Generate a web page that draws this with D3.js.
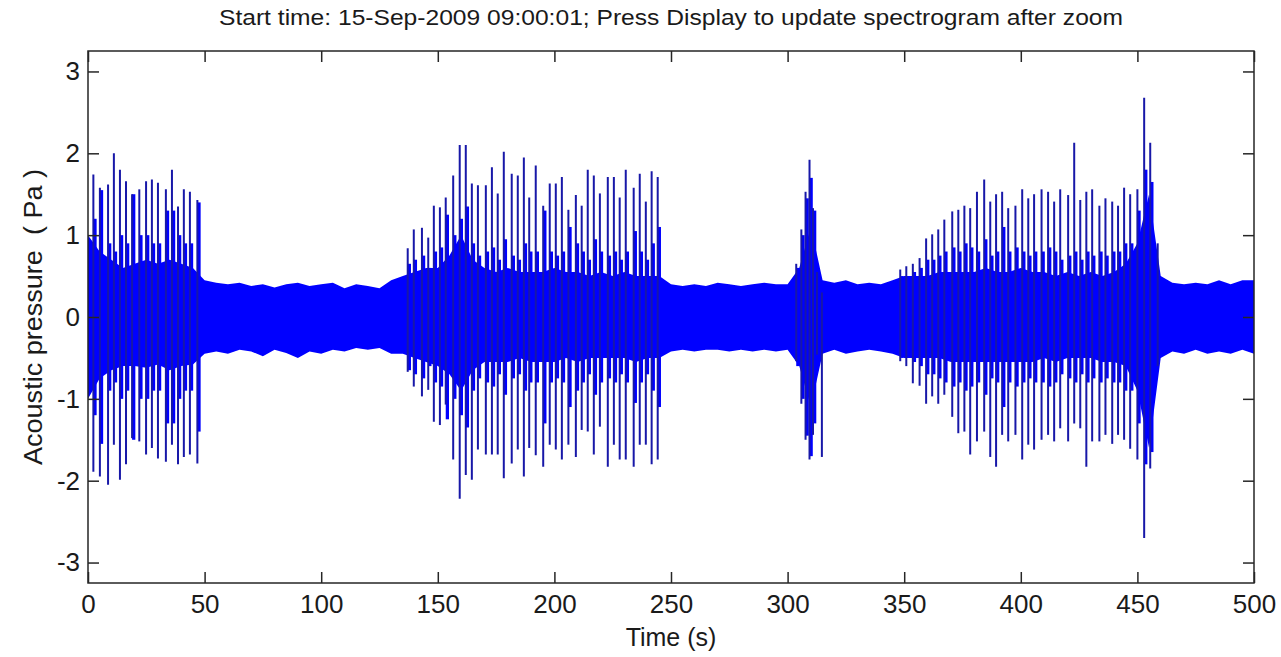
<!DOCTYPE html>
<html>
<head>
<meta charset="utf-8">
<script src="https://cdn.jsdelivr.net/npm/d3@7"></script>
<style>
  body { margin: 0; background: #ffffff; }
  svg text { font-family: "Liberation Sans", Arial, sans-serif; fill: #1a1a1a; }
</style>
</head>
<body>
<div id="vis"></div>
<script>
// Noise band envelope (Pa), read every 5 s from 0 to 500 s
const envTimes = d3.range(0, 501, 5);
const envUpper = [
  1.0, 0.8, 0.7, 0.6, 0.65, 0.7, 0.65, 0.7, 0.65, 0.6,
  0.45, 0.42, 0.4, 0.42, 0.38, 0.4, 0.36, 0.4, 0.42, 0.38,
  0.4, 0.42, 0.35, 0.4, 0.38, 0.35, 0.45, 0.5, 0.55, 0.6,
  0.6, 0.75, 1.0, 0.7, 0.6, 0.55, 0.6, 0.55, 0.55, 0.55,
  0.6, 0.55, 0.55, 0.5, 0.55, 0.5, 0.55, 0.5, 0.5, 0.5,
  0.4, 0.38, 0.4, 0.38, 0.42, 0.4, 0.38, 0.4, 0.42, 0.4,
  0.4, 0.6, 1.1, 0.45, 0.42, 0.45, 0.4, 0.42, 0.4, 0.45,
  0.5, 0.5, 0.5, 0.55, 0.55, 0.55, 0.55, 0.6, 0.55, 0.55,
  0.6, 0.55, 0.55, 0.5, 0.55, 0.5, 0.55, 0.5, 0.55, 0.65,
  0.9, 1.5, 0.5, 0.42, 0.4, 0.42, 0.4, 0.45, 0.4, 0.45,
  0.45
];
const envLower = [
  -1.0, -0.75, -0.65, -0.6, -0.6, -0.62, -0.58, -0.65, -0.6, -0.58,
  -0.45, -0.42, -0.45, -0.4, -0.42, -0.48, -0.4, -0.44, -0.5, -0.42,
  -0.45, -0.4, -0.42, -0.38, -0.4, -0.38, -0.45, -0.45, -0.5, -0.55,
  -0.6, -0.7, -0.9, -0.65, -0.55, -0.55, -0.55, -0.5, -0.55, -0.55,
  -0.55, -0.5, -0.55, -0.5, -0.5, -0.5, -0.5, -0.55, -0.5, -0.5,
  -0.42, -0.4, -0.42, -0.4, -0.4, -0.42, -0.4, -0.42, -0.4, -0.42,
  -0.4, -0.6, -1.1, -0.45, -0.4, -0.45, -0.42, -0.4, -0.42, -0.45,
  -0.5, -0.5, -0.5, -0.5, -0.55, -0.55, -0.55, -0.55, -0.55, -0.55,
  -0.55, -0.55, -0.5, -0.55, -0.5, -0.5, -0.5, -0.55, -0.55, -0.6,
  -0.9, -1.6, -0.5, -0.42, -0.45, -0.4, -0.45, -0.42, -0.45, -0.4,
  -0.45
];

// Click pulses: time (s), positive peak, negative peak, height of the dense part
const pulseTimes = [
  2.3, 5.1, 8.6, 11.1, 13.7, 16.3, 18.9, 22.0, 24.9, 27.4, 30.0, 33.4, 36.0, 38.6, 41.1, 43.7, 46.9,
  137.1, 139.7, 143.2, 145.9, 148.3, 150.9, 153.4, 156.6, 159.4, 162.0, 164.6, 167.2, 170.6, 173.2,
  175.7, 178.3, 181.7, 184.3, 186.9, 189.2, 192.0, 195.2, 198.0, 200.6, 203.2, 206.0, 209.2, 211.7,
  214.3, 216.9, 219.5, 222.9, 225.5, 228.0, 230.6, 234.0, 236.6, 239.2, 241.7, 244.3,
  303.7, 305.9, 307.7, 309.4, 310.9, 312.6, 314.7,
  348.3, 350.9, 353.7, 356.6, 359.4, 362.0, 364.6, 367.2, 370.6, 373.2, 375.8, 378.3, 381.2, 384.3,
  386.9, 389.4, 392.0, 394.6, 397.7, 400.6, 403.2, 405.7, 408.9, 411.7, 414.3, 416.9, 420.3, 422.9,
  425.5, 428.1, 430.6, 433.7, 436.3, 439.2, 441.7, 444.3, 446.9, 450.0, 452.9, 455.5, 458.7
];
const pulseTops = [
  1.74, 1.58, 1.62, 2.0, 1.80, 1.66, 1.50, 1.56, 1.66, 1.68, 1.64, 1.56, 1.80, 1.35, 1.56, 1.53, 1.43,
  0.84, 1.07, 1.09, 0.97, 1.36, 1.34, 1.46, 1.73, 2.10, 2.10, 1.63, 1.61, 1.61, 1.83,
  1.51, 2.02, 1.75, 1.73, 1.95, 1.46, 1.85, 1.36, 1.63, 1.63, 1.71, 1.31, 1.49, 1.36,
  1.80, 1.73, 1.51, 1.71, 1.71, 1.46, 1.80, 1.58, 1.75, 1.41, 1.78, 1.71,
  0.65, 1.07, 1.53, 1.92, 1.33, 0.55, 0.3,
  0.58, 0.62, 0.65, 0.72, 0.96, 1.01, 1.07, 1.19, 1.29, 1.31, 1.36, 1.33, 1.53, 1.68,
  1.41, 1.50, 1.53, 1.33, 1.36, 1.56, 1.45, 1.50, 1.56, 1.53, 1.41, 1.56, 1.49, 2.13,
  1.43, 1.53, 1.56, 1.36, 1.45, 1.41, 1.36, 1.58, 1.50, 1.56, 2.68, 2.13, 0.9
];
const pulseBottoms = [
  -1.89, -1.95, -2.05, -1.56, -1.99, -1.80, -1.48, -1.52, -1.68, -1.60, -1.73, -1.77, -1.56, -1.80, -1.71, -1.68, -1.79,
  -0.67, -0.85, -0.97, -0.89, -1.28, -1.32, -1.07, -1.74, -2.22, -1.93, -1.99, -1.62, -1.68, -1.68,
  -1.68, -1.97, -1.79, -1.62, -1.95, -1.60, -1.69, -1.83, -1.56, -1.62, -1.74, -1.56, -1.71, -1.38,
  -1.40, -1.68, -1.34, -1.83, -1.56, -1.74, -1.74, -1.83, -1.56, -1.56, -1.80, -1.74,
  -0.54, -1.06, -1.5, -1.74, -1.44, -0.46, -1.71,
  -0.54, -0.6, -0.81, -0.84, -1.06, -0.97, -1.06, -0.95, -1.22, -1.42, -1.40, -1.68, -1.52, -1.40,
  -1.71, -1.83, -1.44, -1.52, -1.44, -1.74, -1.56, -1.62, -1.50, -1.44, -1.52, -1.36, -1.52, -1.30,
  -1.36, -1.83, -1.52, -1.52, -1.44, -1.55, -1.44, -1.50, -1.61, -1.74, -2.70, -1.85, -0.6
];
const pulseShoulders = [
  1.2, 1.55, 0.9, 0.8, 1.0, 0.9, 1.5, 1.0, 1.0, 0.9, 0.9, 1.3, 1.3, 1.0, 0.9, 0.9, 1.4,
  0.65, 0.7, 0.75, 0.6, 0.8, 0.85, 1.25, 1.0, 1.2, 1.35, 0.9, 0.75, 0.8, 0.85,
  0.7, 0.95, 0.75, 0.7, 0.9, 0.8, 0.8, 1.3, 0.8, 0.75, 0.8, 1.1, 0.9, 0.8,
  0.7, 0.95, 0.8, 0.75, 0.8, 0.7, 0.8, 1.05, 0.8, 0.7, 0.9, 1.1,
  0.6, 1.0, 1.45, 1.7, 1.3, 0.5, 0.35,
  0.5, 0.5, 0.55, 0.6, 0.7, 0.7, 0.75, 0.8, 0.85, 0.8, 0.9, 0.85, 0.8, 0.95,
  0.75, 0.8, 1.1, 0.8, 0.85, 0.8, 0.75, 0.8, 0.8, 0.85, 0.8, 0.7, 0.75, 0.8,
  0.7, 0.8, 0.75, 0.8, 0.75, 0.8, 0.8, 0.9, 0.9, 1.3, 1.8, 1.65, 0.5
];

const xTicks = [0, 50, 100, 150, 200, 250, 300, 350, 400, 450, 500];
const yTicks = [-3, -2, -1, 0, 1, 2, 3];

const titleText = "Start time: 15-Sep-2009 09:00:01; Press Display to update spectrogram after zoom";

(function() {
    const W = 1281, H = 657;
    const margin = { top: 51, right: 27, bottom: 74, left: 88 };
    const width = W - margin.left - margin.right;
    const height = H - margin.top - margin.bottom;

    const svg = d3.select("#vis")
        .append("svg")
        .attr("width", W)
        .attr("height", H);

    const g = svg.append("g")
        .attr("transform", `translate(${margin.left},${margin.top})`);

    const x = d3.scaleLinear().domain([0, 500]).range([0, width]);
    const y = d3.scaleLinear().domain([-3.25, 3.25]).range([height, 0]);

    g.append("clipPath").attr("id", "plotClip")
        .append("rect").attr("width", width).attr("height", height);

    const plot = g.append("g").attr("clip-path", "url(#plotClip)");

    // background noise band
    const env = envTimes.map((t, i) => ({ t, hi: envUpper[i], lo: envLower[i] }));
    plot.append("path")
        .datum(env)
        .attr("fill", "#0000ff")
        .attr("d", d3.area()
            .x(d => x(d.t))
            .y0(d => y(d.lo))
            .y1(d => y(d.hi)));

    const pulses = pulseTimes.map((t, i) => ({
        t, hi: pulseTops[i], lo: pulseBottoms[i], s: pulseShoulders[i]
    }));

    // dense part right after each click
    plot.selectAll("rect.shoulder")
        .data(pulses)
        .enter().append("rect")
        .attr("class", "shoulder")
        .attr("x", d => x(d.t))
        .attr("width", x(1.4) - x(0))
        .attr("y", d => y(d.s))
        .attr("height", d => y(-d.s) - y(d.s))
        .attr("fill", "#0000ff");

    // click spikes
    plot.selectAll("line.pulse")
        .data(pulses)
        .enter().append("line")
        .attr("class", "pulse")
        .attr("x1", d => x(d.t))
        .attr("x2", d => x(d.t))
        .attr("y1", d => y(d.hi))
        .attr("y2", d => y(d.lo))
        .attr("stroke", "#1818a8")
        .attr("stroke-width", 2);

    // axes box with inward ticks on all sides
    const tickLen = 11;
    const axisColor = "#262626";
    const fmt = d => String(d); // plain hyphen minus, as in the original

    g.append("rect")
        .attr("width", width)
        .attr("height", height)
        .attr("fill", "none")
        .attr("stroke", axisColor)
        .attr("stroke-width", 1.5);

    const bottomAxis = g.append("g")
        .attr("transform", `translate(0,${height})`)
        .call(d3.axisBottom(x).tickValues(xTicks).tickSize(-tickLen).tickPadding(12).tickFormat(fmt));
    const topAxis = g.append("g")
        .call(d3.axisTop(x).tickValues(xTicks).tickSize(-tickLen).tickFormat(""));
    const leftAxis = g.append("g")
        .call(d3.axisLeft(y).tickValues(yTicks).tickSize(-tickLen).tickPadding(8).tickFormat(fmt));
    const rightAxis = g.append("g")
        .attr("transform", `translate(${width},0)`)
        .call(d3.axisRight(y).tickValues(yTicks).tickSize(-tickLen).tickFormat(""));

    [bottomAxis, topAxis, leftAxis, rightAxis].forEach(a => {
        a.select(".domain").remove();
        a.selectAll(".tick line").attr("stroke", axisColor).attr("stroke-width", 1.5);
        a.selectAll(".tick text")
            .attr("fill", "#1a1a1a")
            .style("font-size", "26px")
            .style("font-family", "'Liberation Sans', Arial, sans-serif");
    });

    // title
    svg.append("text")
        .attr("x", margin.left + width / 2)
        .attr("y", 25)
        .attr("text-anchor", "middle")
        .style("font-size", "22px")
        .attr("textLength", 904)
        .attr("lengthAdjust", "spacingAndGlyphs")
        .text(titleText);

    // axis labels
    svg.append("text")
        .attr("x", margin.left + width / 2)
        .attr("y", 646)
        .attr("text-anchor", "middle")
        .style("font-size", "25px")
        .text("Time (s)");

    svg.append("text")
        .attr("transform", `translate(42,${margin.top + height / 2}) rotate(-90)`)
        .attr("text-anchor", "middle")
        .style("font-size", "25px")
        .style("white-space", "pre")
        .attr("textLength", 296)
        .attr("lengthAdjust", "spacingAndGlyphs")
        .text("Acoustic pressure  ( Pa )");
})();
</script>
</body>
</html>
